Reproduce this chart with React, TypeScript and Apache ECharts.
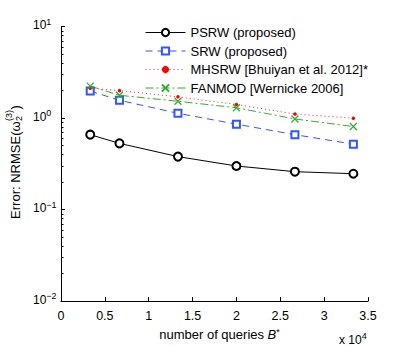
import React, { useEffect, useRef } from "react";
import * as echarts from "echarts";

const queries = [3333, 6667, 13333, 20000, 26667, 33333];
const psrw = [0.66, 0.53, 0.38, 0.3, 0.26, 0.247];
const srw = [1.98, 1.57, 1.13, 0.86, 0.66, 0.52];
const mhsrw = [2.13, 2.0, 1.71, 1.41, 1.11, 1.0];
const fanmod = [2.24, 1.78, 1.53, 1.3, 0.98, 0.81];
const seriesNames = [
  "PSRW (proposed)",
  "SRW (proposed)",
  "MHSRW [Bhuiyan et al. 2012]*",
  "FANMOD [Wernicke 2006]",
];
const yMinorTicks = [
  0.02, 0.03, 0.04, 0.05, 0.06, 0.07, 0.08, 0.09,
  0.2, 0.3, 0.4, 0.5, 0.6, 0.7, 0.8, 0.9,
  2, 3, 4, 5, 6, 7, 8, 9,
];
const xScale = 10000;

const FONT = "'Liberation Sans', Arial, Helvetica, sans-serif";

function measure(text: string, size: number) {
  const c = document.createElement("canvas").getContext("2d");
  if (!c) return text.length * size * 0.55;
  c.font = `${size}px ${FONT}`;
  return c.measureText(text).width;
}

export default function App() {
  const ref = useRef<HTMLDivElement>(null);
  useEffect(() => {
    if (!ref.current) return;
    const chart = echarts.init(ref.current, undefined, { renderer: "svg" });
    const fs = 13;
    const t1 = "Error: NRMSE(\u03c9";
    const w1 = measure(t1, fs);
    const wSup = measure("(3)", 9);
    const w2 = measure(")", fs);
    const total = w1 + wSup + 1 + w2;
    const yTitleCenter = 162;

    chart.setOption({
      animation: false,
      textStyle: { fontFamily: FONT, color: "#000" },
      grid: { left: 61, top: 26.7, width: 307, height: 280, containLabel: false },
      legend: {
        left: 145,
        top: 25.5,
        orient: "vertical",
        padding: 0,
        itemWidth: 40,
        itemHeight: 9,
        itemGap: 4.5,
        lineStyle: { width: 1 },
        textStyle: { fontSize: 13, lineHeight: 14, color: "#000", fontFamily: FONT },
        data: seriesNames,
      },
      xAxis: {
        type: "value",
        min: 0,
        max: 35000,
        interval: 5000,
        name: "number of queries {i|B}{s|*}",
        nameLocation: "middle",
        nameGap: 20,
        nameTextStyle: {
          fontSize: 13,
          color: "#000",
          padding: [0, 0, 0, 10],
          rich: {
            i: { fontSize: 13, fontStyle: "italic" },
            s: { fontSize: 9, padding: [0, 0, 6, 0] },
          },
        },
        axisLine: { onZero: false, lineStyle: { color: "#000", width: 1 } },
        axisTick: { inside: true, length: 4, lineStyle: { color: "#000" } },
        axisLabel: {
          fontSize: 12.5,
          color: "#000",
          margin: 8,
          formatter: (v: number) => String(v / xScale),
        },
        splitLine: { show: false },
      },
      yAxis: [
        {
          type: "log",
          logBase: 10,
          min: 0.01,
          max: 10,
          axisLine: { onZero: false, lineStyle: { color: "#000", width: 1 } },
          axisTick: { inside: true, length: 4, lineStyle: { color: "#000" } },
          axisLabel: {
            fontSize: 12,
            color: "#000",
            align: "left",
            margin: 28,
            formatter: (v: number) => {
              const e = Math.round(Math.log10(v));
              return `{b|10}{s|${e < 0 ? "\u2212" + -e : e}}`;
            },
            rich: {
              b: { fontSize: 12, lineHeight: 13, padding: [0, 0, 3, 0] },
              s: { fontSize: 9, lineHeight: 10, padding: [0, 0, 10, 0] },
            },
          },
          splitLine: { show: false },
        },
        {
          type: "value",
          min: -2,
          max: 1,
          position: "left",
          axisLine: { show: false, onZero: false },
          axisLabel: { show: false },
          axisTick: {
            show: true,
            inside: true,
            length: 2.5,
            customValues: yMinorTicks.map((v) => Math.log10(v)),
            lineStyle: { color: "#000" },
          },
          splitLine: { show: false },
        },
      ],
      graphic: [
        {
          type: "group",
          x: 15,
          y: yTitleCenter + total / 2,
          rotation: Math.PI / 2,
          children: [
            {
              type: "text",
              x: 0,
              y: 0,
              style: { text: t1, font: `${fs}px ${FONT}`, fill: "#000", align: "left", verticalAlign: "middle" },
            },
            {
              type: "text",
              x: w1 + 0.5,
              y: -6,
              style: { text: "(3)", font: `9px ${FONT}`, fill: "#000", align: "left", verticalAlign: "middle" },
            },
            {
              type: "text",
              x: w1 + 0.5,
              y: 4,
              style: { text: "2", font: `9px ${FONT}`, fill: "#000", align: "left", verticalAlign: "middle" },
            },
            {
              type: "text",
              x: w1 + wSup + 1,
              y: 0,
              style: { text: ")", font: `${fs}px ${FONT}`, fill: "#000", align: "left", verticalAlign: "middle" },
            },
          ],
        },
        {
          type: "text",
          x: 339,
          y: 345.5,
          style: {
            text: "{b|x 10}{s|4}",
            font: `12px ${FONT}`,
            fill: "#000",
            align: "left",
            verticalAlign: "bottom",
            rich: {
              b: { fontSize: 12, lineHeight: 12 },
              s: { fontSize: 9, lineHeight: 10, padding: [0, 0, 7, 0] },
            },
          },
        },
      ],
      series: [
        {
          name: seriesNames[0],
          type: "line",
          data: queries.map((q, i) => [q, psrw[i]]),
          symbol: "emptyCircle",
          symbolSize: 8,
          lineStyle: { color: "#000", width: 1, type: "solid" },
          itemStyle: { color: "#000", borderColor: "#000", borderWidth: 1 },
        },
        {
          name: seriesNames[1],
          type: "line",
          data: queries.map((q, i) => [q, srw[i]]),
          symbol: "emptyRect",
          symbolSize: 7,
          lineStyle: { color: "#3355ff", width: 1, type: [7, 5] },
          itemStyle: { color: "#3355ff", borderColor: "#3355ff", borderWidth: 1 },
        },
        {
          name: seriesNames[2],
          type: "line",
          data: queries.map((q, i) => [q, mhsrw[i]]),
          symbol: "circle",
          symbolSize: 3.5,
          lineStyle: { color: "#ff2020", width: 1, type: [1, 3] },
          itemStyle: { color: "#ff0000" },
        },
        {
          name: seriesNames[3],
          type: "line",
          data: queries.map((q, i) => [q, fanmod[i]]),
          symbol: "path://M0,0L10,10M10,0L0,10",
          symbolSize: 7,
          lineStyle: { color: "#33aa33", width: 1, type: [8, 3, 2, 3] },
          itemStyle: { color: "#33aa33", borderColor: "#33aa33", borderWidth: 1.2 },
        },
      ],
    });
    return () => chart.dispose();
  }, []);
  return <div ref={ref} style={{ width: 407, height: 346, position: "absolute", left: 0, top: 0 }} />;
}
